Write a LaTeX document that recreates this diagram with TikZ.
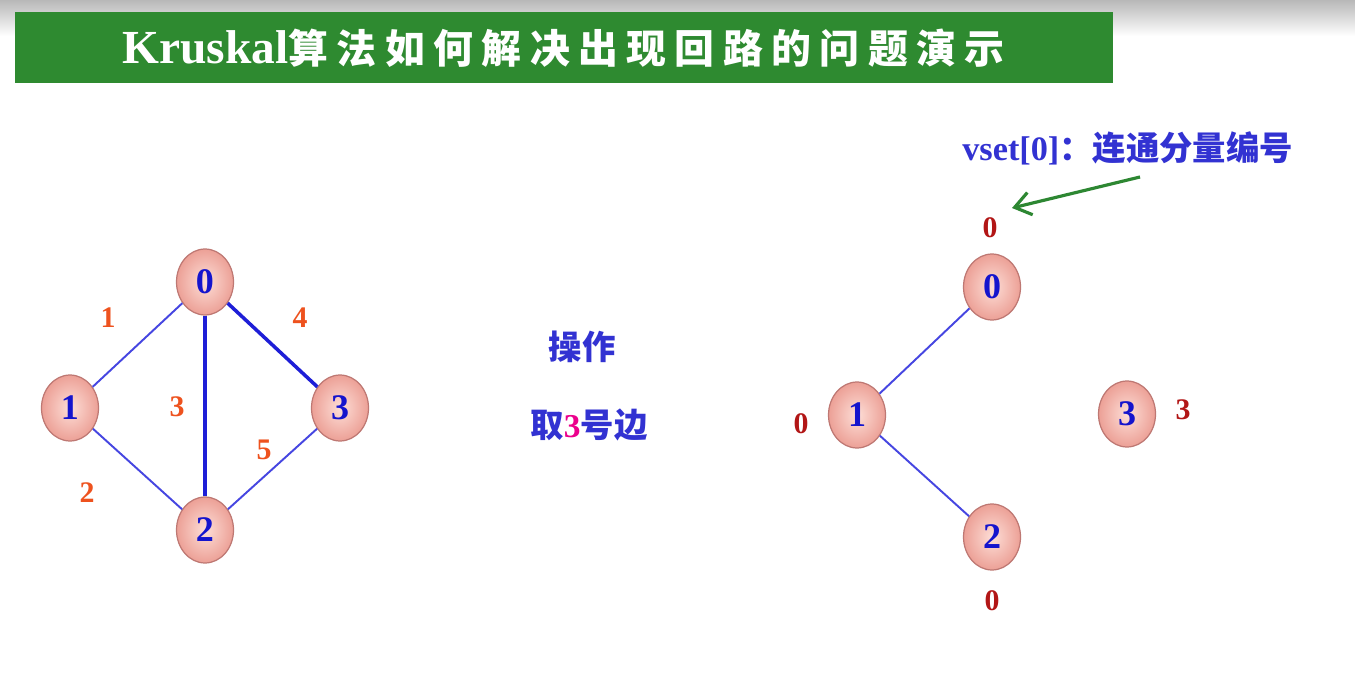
\documentclass[tikz,border=0pt]{standalone}
\usepackage{fontspec}
\setmainfont{Liberation Serif}
\newfontfamily\cjk{Noto Sans CJK SC}
\usetikzlibrary{shapes.geometric,arrows.meta}
\definecolor{bannergreen}{RGB}{46,138,48}
\definecolor{nodeblue}{RGB}{20,20,205}
\definecolor{edgeblue}{RGB}{70,70,225}
\definecolor{edgeblueD}{RGB}{30,30,215}
\definecolor{wlabel}{RGB}{238,82,30}
\definecolor{vlabel}{RGB}{178,22,22}
\definecolor{txtblue}{RGB}{50,50,210}
\definecolor{pinkin}{RGB}{253,222,215}
\definecolor{pinkout}{RGB}{236,160,150}
\definecolor{pinkedge}{RGB}{190,120,115}
\definecolor{arrowgreen}{RGB}{45,135,50}
\newcommand\tg{\hspace{4.8pt}}
\begin{document}
\begin{tikzpicture}[x=0.02cm,y=-0.02cm,
  vert/.style={ellipse, draw=pinkedge, line width=0.7pt, minimum width=1.14cm, minimum height=1.32cm,
    inner sep=0pt, inner color=pinkin, outer color=pinkout, text=nodeblue,
    font=\bfseries\fontsize{20.5}{21}\selectfont},
  thinedge/.style={draw=edgeblue, line width=1.1pt},
  thickedge/.style={draw=edgeblueD, line width=2pt},
  wlab/.style={text=wlabel, font=\bfseries\fontsize{17}{18}\selectfont},
  vlab/.style={text=vlabel, font=\bfseries\fontsize{17}{18}\selectfont},
  ctext/.style={text=txtblue, font=\cjk\bfseries\fontsize{19}{20}\selectfont, inner sep=0pt}
]
\useasboundingbox (0,0) rectangle (1355,699);
\fill[white] (0,0) rectangle (1355,699);
\shade[top color=black!28, bottom color=white] (0,0) rectangle (1355,36);
% banner
\fill[bannergreen] (15,12) rectangle (1113,83);
\node[anchor=west, text=white, inner sep=0pt] (title) at (122,48)
  {{\bfseries\fontsize{27}{28}\selectfont Kruskal}{\cjk\bfseries\fontsize{22.7}{24}\selectfont 算\tg 法\tg 如\tg 何\tg 解\tg 决\tg 出\tg 现\tg 回\tg 路\tg 的\tg 问\tg 题\tg 演\tg 示}};

% left graph
\node[vert] (a0) at (205,282) {0};
\node[vert] (a1) at (70,408) {1};
\node[vert] (a3) at (340,408) {3};
\node[vert] (a2) at (205,530) {2};
\draw[thinedge] (a0) -- (a1);
\draw[thinedge] (a1) -- (a2);
\draw[thinedge] (a2) -- (a3);
\draw[thickedge] (a0) -- (a2);
\draw[thickedge] (a0) -- (a3);
\node[wlab] (w1) at (108,318) {1};
\node[wlab] (w4) at (300,318) {4};
\node[wlab] (w3) at (177,407) {3};
\node[wlab] (w5) at (264,450) {5};
\node[wlab] (w2) at (87,493) {2};

% middle text
\node[ctext] (op) at (582,347) {操作};
\node[ctext] (take) at (589,425) {取{\fontspec{Liberation Serif}\bfseries\color{magenta}3}号边};

% right graph
\node[vert] (b0) at (992,287) {0};
\node[vert] (b1) at (857,415) {1};
\node[vert] (b2) at (992,537) {2};
\node[vert] (b3) at (1127,414) {3};
\draw[thinedge] (b0) -- (b1);
\draw[thinedge] (b1) -- (b2);
\node[vlab] (v0) at (990,228) {0};
\node[vlab] (v1) at (801,424) {0};
\node[vlab] (v2) at (992,601) {0};
\node[vlab] (v3) at (1183,410) {3};

\node[anchor=west, text=txtblue, inner sep=0pt] (vset) at (962,148)
  {{\bfseries\fontsize{19.5}{20}\selectfont vset[0]}{\cjk\bfseries\fontsize{19}{20}\selectfont ：连通分量编号}};
\coordinate (arS) at (1140,177);
\coordinate (arE) at (1012,208);
\draw[arrowgreen, line width=1.8pt, -{Straight Barb[length=9pt,width=13pt,line width=1.8pt]}] (arS) -- (arE);
\end{tikzpicture}
\end{document}
